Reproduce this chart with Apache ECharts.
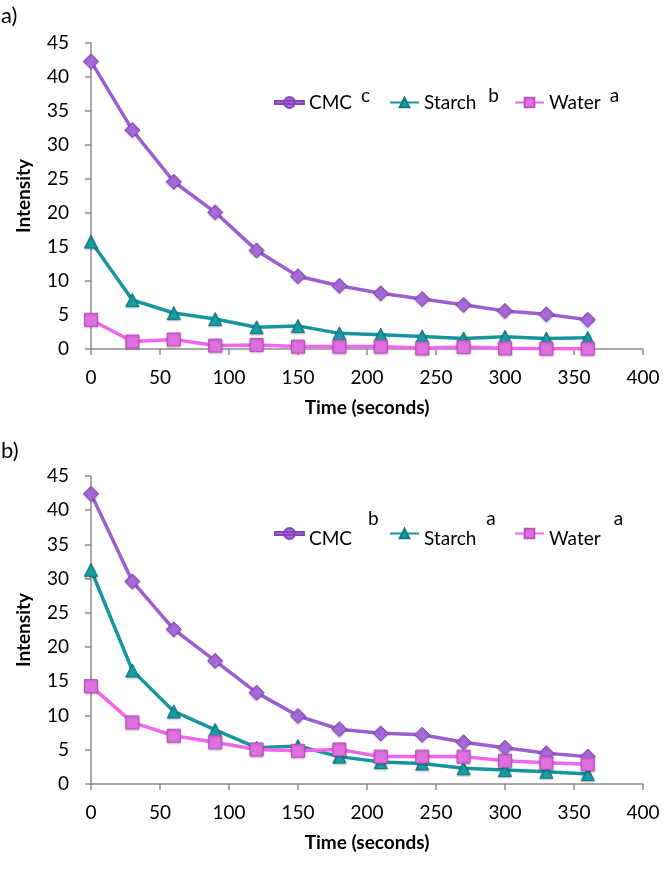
<!DOCTYPE html>
<html>
<head>
<meta charset="utf-8">
<script src="https://cdn.jsdelivr.net/npm/echarts@6/dist/echarts.min.js"></script>
<style>
html,body{margin:0;padding:0;background:#fff;}
#chart{width:669px;height:872px;}
</style>
</head>
<body>
<div id="chart"></div>
<script>
// ---- data ----
const times = [0, 30, 60, 90, 120, 150, 180, 210, 240, 270, 300, 330, 360];
const cmcA    = [42.3, 32.2, 24.6, 20.1, 14.5, 10.7, 9.3, 8.2, 7.35, 6.5, 5.6, 5.1, 4.3];
const starchA = [15.8, 7.2, 5.3, 4.4, 3.2, 3.4, 2.3, 2.1, 1.85, 1.55, 1.8, 1.55, 1.65];
const waterA  = [4.3, 1.1, 1.4, 0.5, 0.6, 0.35, 0.35, 0.35, 0.1, 0.3, 0.1, 0.05, 0.05];
const cmcB    = [42.4, 29.6, 22.6, 18.0, 13.35, 9.95, 8.0, 7.4, 7.2, 6.1, 5.3, 4.5, 4.0];
const starchB = [31.3, 16.6, 10.6, 7.9, 5.3, 5.55, 4.0, 3.2, 3.0, 2.3, 2.05, 1.8, 1.45];
const waterB  = [14.3, 9.0, 7.05, 6.1, 5.05, 4.85, 5.05, 4.0, 4.0, 4.0, 3.4, 3.1, 2.9];
const seriesNames = ['CMC', 'Starch', 'Water'];
const supA = ['c', 'b', 'a'];
const supB = ['b', 'a', 'a'];
const panelLabels = ['a)', 'b)'];
const xTitle = 'Time (seconds)';
const yTitle = 'Intensity';

// ---- style ----
const FONT = 'Lato';
const colors = {
  CMC:    {line: '#9B5FD0', fill: '#A868DA', border: '#8246B6'},
  Starch: {line: '#17969E', fill: '#1A9EA6', border: '#0F7A80'},
  Water:  {line: '#F066EE', fill: '#E070E0', border: '#C04CC0'}
};
const symbols = {CMC: 'diamond', Starch: 'triangle', Water: 'rect'};
const symbolSizes = {CMC: 15, Starch: 13, Water: 13};
const cmcLegendIcon = 'path://M0,4.5H29V7.5H0Z M14.5,0.5 A5.5,5.5 0 1 1 14.49,0.5Z';

const chart = echarts.init(document.getElementById('chart'));

function makeX(gi) {
  return {
    type: 'value', gridIndex: gi, min: 0, max: 400, interval: 50,
    name: xTitle, nameLocation: 'middle', nameGap: 49,
    nameTextStyle: {fontFamily: FONT, fontWeight: 'bold', fontSize: 19, color: '#000'},
    axisLine: {show: true, lineStyle: {color: '#8c8c8c', width: 1.5}},
    axisTick: {show: true, length: 6, lineStyle: {color: '#8c8c8c', width: 1.5}},
    axisLabel: {fontFamily: FONT, fontSize: 19, color: '#000', margin: 19},
    splitLine: {show: false}
  };
}
function makeY(gi) {
  return {
    type: 'value', gridIndex: gi, min: 0, max: 45, interval: 5,
    name: yTitle, nameLocation: 'middle', nameGap: 58, nameRotate: 90,
    nameTextStyle: {fontFamily: FONT, fontWeight: 'bold', fontSize: 19, color: '#000'},
    axisLine: {show: true, lineStyle: {color: '#8c8c8c', width: 1.5}},
    axisTick: {show: true, length: 6, lineStyle: {color: '#8c8c8c', width: 1.5}},
    axisLabel: {fontFamily: FONT, fontSize: 19, color: '#000', margin: 22},
    splitLine: {show: false}
  };
}
function makeSeries(name, values, gi) {
  const c = colors[name];
  return {
    name: name, type: 'line', xAxisIndex: gi, yAxisIndex: gi,
    data: times.map((t, i) => [t, values[i]]),
    symbol: symbols[name], symbolSize: symbolSizes[name],
    lineStyle: {color: c.line, width: 3.5},
    itemStyle: {color: c.fill, borderColor: c.border, borderWidth: 1,
                shadowColor: 'rgba(0,0,0,0.25)', shadowBlur: 2, shadowOffsetY: 1},
    emphasis: {disabled: true},
    z: 2
  };
}
// legend item builder
function makeLegend(name, sup, left, top, supRaise, textDrop, supGap) {
  const item = {name: name};
  if (name === 'CMC') item.icon = cmcLegendIcon;
  return {
    data: [item], left: left, top: top, padding: 0,
    itemWidth: 29, itemHeight: 12, selectedMode: false,
    formatter: function (n) { return '{n|' + n + '}{s|' + sup + '}'; },
    textStyle: {
      fontFamily: FONT, fontSize: 19, color: '#000',
      rich: {
        n: {fontFamily: FONT, fontSize: 19, lineHeight: 20, color: '#000', padding: [textDrop * 2, 0, 0, 0]},
        s: {fontFamily: FONT, fontSize: 19, lineHeight: 20, color: '#000', padding: [0, 0, supRaise * 2, supGap]}
      }
    }
  };
}

const legendLeft = [274, 389, 514];
const option = {
  animation: false,
  backgroundColor: '#fff',
  grid: [
    {left: 91, top: 43, width: 552, height: 306},
    {left: 91, top: 476, width: 552, height: 308}
  ],
  xAxis: [makeX(0), makeX(1)],
  yAxis: [makeY(0), makeY(1)],
  legend: [
    makeLegend(seriesNames[0], supA[0], legendLeft[0], 86, 7, 0, 9),
    makeLegend(seriesNames[1], supA[1], legendLeft[1], 86, 7, 0, 12),
    makeLegend(seriesNames[2], supA[2], legendLeft[2], 86, 7, 0, 9),
    makeLegend(seriesNames[0], supB[0], legendLeft[0], 509, 15, 5, 16),
    makeLegend(seriesNames[1], supB[1], legendLeft[1], 509, 15, 5, 10),
    makeLegend(seriesNames[2], supB[2], legendLeft[2], 509, 15, 5, 13)
  ],
  graphic: [
    {type: 'text', left: 1, top: 5, style: {text: panelLabels[0], fontFamily: FONT, fontSize: 22, fill: '#000'}},
    {type: 'text', left: 1, top: 440, style: {text: panelLabels[1], fontFamily: FONT, fontSize: 22, fill: '#000'}}
  ],
  series: [
    makeSeries('CMC', cmcA, 0),
    makeSeries('Starch', starchA, 0),
    makeSeries('Water', waterA, 0),
    makeSeries('CMC', cmcB, 1),
    makeSeries('Starch', starchB, 1),
    makeSeries('Water', waterB, 1)
  ]
};
chart.setOption(option);
</script>
</body>
</html>
